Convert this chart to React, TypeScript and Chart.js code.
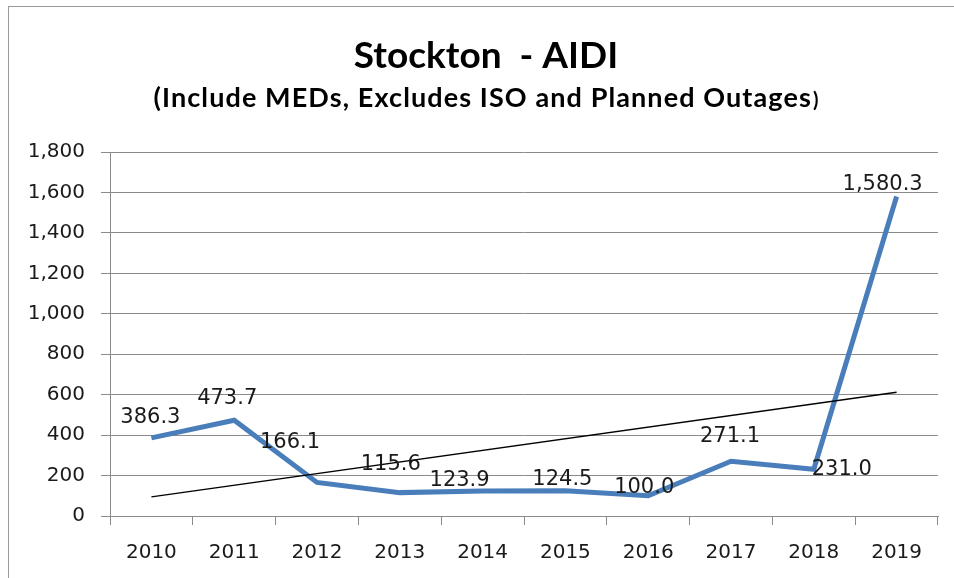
import React, { useEffect, useRef } from "react";
import { Chart, registerables } from "chart.js";

Chart.register(...registerables);

const categories = ["2010", "2011", "2012", "2013", "2014", "2015", "2016", "2017", "2018", "2019"];
const aidiValues = [386.3, 473.7, 166.1, 115.6, 123.9, 124.5, 100.0, 271.1, 231.0, 1580.3];
const trendValues: (number | null)[] = [95, null, null, null, null, null, null, null, null, 612];
const yTicks = [0, 200, 400, 600, 800, 1000, 1200, 1400, 1600, 1800];

const titleText = "Stockton  - AIDI";
const subtitleText = "(Include MEDs, Excludes ISO and Planned Outages";

// label offsets (px) relative to each point, mimicking the original manual placement
const labelOffsets: [number, number][] = [
  [-1, -20], [-7, -22], [-27, -40], [-9, -28], [-23, -10],
  [-3, -11], [-4, -8], [-1, -25], [28, 0], [-14, -12],
];

const fmt = (v: number, d: number) =>
  v.toLocaleString("en-US", { minimumFractionDigits: d, maximumFractionDigits: d });

const GRID = "#8a8a8a";
const TEXT = "#1a1a1a";
const FONT = "'DejaVu Sans'";

export default function App() {
  const ref = useRef<HTMLCanvasElement | null>(null);

  useEffect(() => {
    if (!ref.current) return;

    const headerPlugin = {
      id: "header",
      afterDraw(chart: any) {
        const ctx = chart.ctx;
        ctx.save();
        ctx.fillStyle = "#000";
        ctx.textBaseline = "alphabetic";
        ctx.textAlign = "center";
        ctx.font = "bold 37px Lato";
        ctx.fillText(titleText, 486, 68);
        ctx.font = "bold 27px Lato";
        (ctx as any).letterSpacing = "1.1px";
        const w1 = ctx.measureText(subtitleText).width;
        ctx.font = "bold 20px Lato";
        const w2 = ctx.measureText(")").width;
        const start = 486 - (w1 + w2) / 2;
        ctx.textAlign = "left";
        ctx.font = "bold 27px Lato";
        ctx.fillText(subtitleText, start, 107);
        ctx.font = "bold 20px Lato";
        ctx.fillText(")", start + w1 + 1, 107);
        (ctx as any).letterSpacing = "0px";
        ctx.restore();
      },
    };

    const labelPlugin = {
      id: "valueLabels",
      afterDatasetsDraw(chart: any) {
        const ctx = chart.ctx;
        const meta = chart.getDatasetMeta(0);
        ctx.save();
        ctx.font = `21px ${FONT}`;
        ctx.fillStyle = TEXT;
        ctx.textAlign = "center";
        ctx.textBaseline = "middle";
        meta.data.forEach((pt: any, i: number) => {
          const [dx, dy] = labelOffsets[i] || [0, -20];
          ctx.fillText(fmt(aidiValues[i], 1), pt.x + dx, pt.y + dy);
        });
        ctx.restore();
      },
    };

    const chart = new Chart(ref.current, {
      type: "line",
      data: {
        labels: categories,
        datasets: [
          {
            label: "AIDI",
            data: aidiValues,
            borderColor: "#4a7ebb",
            borderWidth: 5,
            pointRadius: 0,
            tension: 0,
            borderJoinStyle: "miter",
            order: 1,
          },
          {
            label: "Trend",
            data: trendValues,
            borderColor: "#000",
            borderWidth: 1.3,
            pointRadius: 0,
            spanGaps: true,
            order: 0,
          },
        ],
      },
      options: {
        animation: false,
        responsive: false,
        maintainAspectRatio: false,
        layout: { padding: { top: 152, right: 16, left: 0, bottom: 0 } },
        plugins: {
          legend: { display: false },
          title: { display: false },
          tooltip: { enabled: false },
        },
        scales: {
          x: {
            type: "category",
            offset: true,
            grid: {
              offset: true,
              drawOnChartArea: false,
              drawTicks: true,
              tickLength: 9,
              color: GRID,
            },
            border: { display: true, color: GRID, width: 1 },
            ticks: {
              color: TEXT,
              font: { family: FONT, size: 20 },
              padding: 16,
              maxRotation: 0,
            },
            afterFit: (s: any) => {
              s.height = 62;
            },
          },
          y: {
            min: 0,
            max: 1800,
            grid: { color: GRID, tickLength: 9, drawTicks: true },
            border: { display: true, color: GRID, width: 1 },
            ticks: {
              color: TEXT,
              font: { family: FONT, size: 20 },
              padding: 16,
              callback: (v: any) => fmt(Number(v), 0),
            },
            afterBuildTicks: (s: any) => {
              s.ticks = yTicks.map((v) => ({ value: v }));
            },
            afterFit: (s: any) => {
              s.width = 110;
            },
          },
        },
      },
      plugins: [headerPlugin, labelPlugin],
    });

    return () => chart.destroy();
  }, []);

  return (
    <div style={{ position: "fixed", left: 0, top: 0, width: 954, height: 578, background: "#fff", overflow: "hidden" }}>
      <div
        style={{
          position: "absolute",
          left: 8,
          top: 6,
          width: 960,
          height: 600,
          borderLeft: "1px solid #9a9a9a",
          borderTop: "1px solid #9a9a9a",
        }}
      />
      <canvas ref={ref} width={954} height={578} style={{ position: "absolute", left: 0, top: 0 }} />
    </div>
  );
}
